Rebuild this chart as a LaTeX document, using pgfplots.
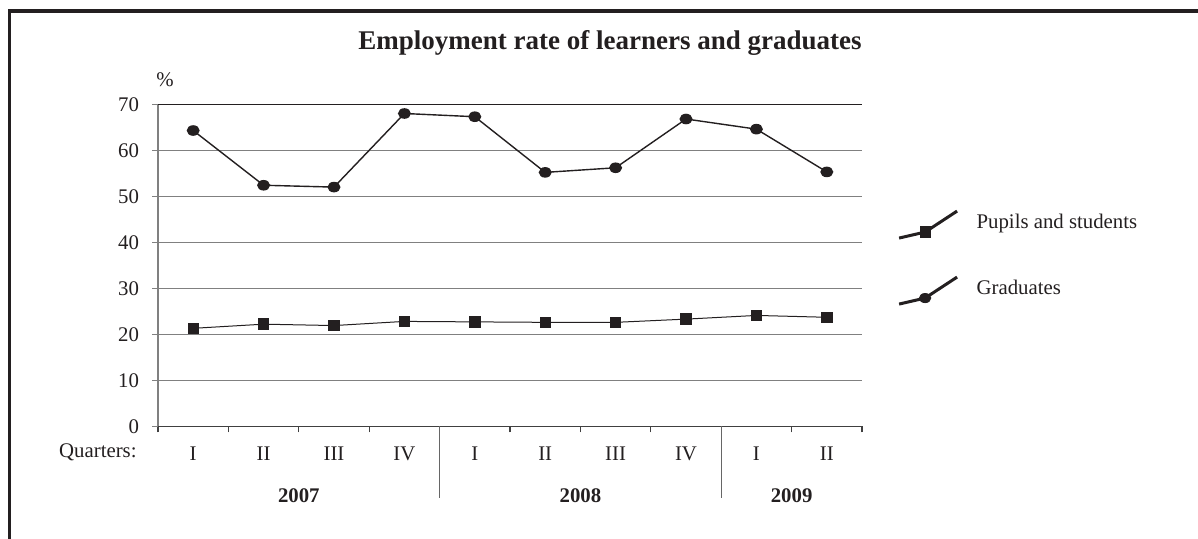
\documentclass[border=0pt]{standalone}
\usepackage{pgfplots}
\pgfplotsset{compat=1.18}
\usepackage{fontspec}
\setmainfont{Liberation Serif}
\definecolor{ink}{HTML}{231F20}
\newcommand{\lf}{\fontsize{10.4}{12.5}\selectfont}
\begin{document}
\begin{tikzpicture}
\useasboundingbox (0,0) rectangle (599pt,269.5pt);
\draw[ink, line width=1.9pt] (4.75pt,0) -- (4.75pt,263.9pt) -- (599pt,263.9pt);
\node[font=\bfseries\fontsize{13.5}{15}\selectfont, text=ink] at (305pt,248pt) {Employment rate of learners and graduates};
\node[font=\lf, text=ink] at (82.5pt,229.5pt) {\%};
\node[font=\lf, text=ink, anchor=east, inner sep=0pt] at (68.5pt,43.3pt) {Quarters:};
\begin{axis}[
  at={(79pt,56.35pt)}, anchor=south west,
  scale only axis, width=352pt, height=161pt,
  xmin=0, xmax=10, ymin=0, ymax=70,
  clip=false,
  xtick={0,...,10}, xticklabels={},
  extra x ticks={0.5,1.5,...,9.5},
  extra x tick labels={I,II,III,IV,I,II,III,IV,I,II},
  extra x tick style={major tick length=0pt, xticklabel style={yshift=-7pt}},
  ytick={0,10,...,70},
  tick align=outside, major tick length=3pt,
  axis x line*=bottom, axis y line*=left,
  x axis line style={black!75, line width=0.6pt},
  y axis line style={black!50, line width=0.6pt},
  xtick style={black!75, line width=0.6pt},
  ytick style={black!50, line width=0.6pt},
  ymajorgrids, grid style={black!50, line width=0.6pt},
  tick label style={font=\lf, text=ink},
  yticklabel style={xshift=-3pt},
  /pgf/number format/assume math mode=true,
  legend style={draw=none, fill=none, at={(1.05,0.524)}, anchor=west,
    font=\lf, text=ink, row sep=18pt, inner sep=0pt,
    /tikz/every odd column/.append style={column sep=7pt}},
  legend cell align=left,
  legend image code/.code={
    \draw[#1, mark=none, line width=1.5pt] (0pt,-7.5pt) -- (13pt,-4.5pt) -- (29pt,6pt);
    \draw[#1, line width=0.4pt] plot coordinates {(13pt,-4.5pt)};
  },
  after end axis/.code={
    \draw[ink, line width=0.6pt] (rel axis cs:0,1) -- (rel axis cs:1,1);
    \draw[black!60, line width=0.6pt] (axis cs:4,0) -- ++(0pt,-36pt);
    \draw[black!60, line width=0.6pt] (axis cs:8,0) -- ++(0pt,-36pt);
    \node[font=\bfseries\lf, text=ink] at ([yshift=-34.5pt]axis cs:2,0) {2007};
    \node[font=\bfseries\lf, text=ink] at ([yshift=-34.5pt]axis cs:6,0) {2008};
    \node[font=\bfseries\lf, text=ink] at ([yshift=-34.5pt]axis cs:9,0) {2009};
  },
]
\addplot[ink, line width=0.5pt, mark=square*, mark size=2.6pt,
  mark options={solid, fill=ink}] coordinates {
  (0.5,21.3) (1.5,22.2) (2.5,21.9) (3.5,22.8) (4.5,22.7)
  (5.5,22.6) (6.5,22.6) (7.5,23.3) (8.5,24.1) (9.5,23.7)};
\addplot[ink, line width=0.7pt, mark=*, mark size=2.3pt,
  mark options={solid, fill=ink, xscale=1.25}] coordinates {
  (0.5,64.3) (1.5,52.4) (2.5,52.0) (3.5,68.0) (4.5,67.3)
  (5.5,55.2) (6.5,56.2) (7.5,66.8) (8.5,64.6) (9.5,55.3)};
\legend{Pupils and students, Graduates}
\end{axis}
\end{tikzpicture}
\end{document}
